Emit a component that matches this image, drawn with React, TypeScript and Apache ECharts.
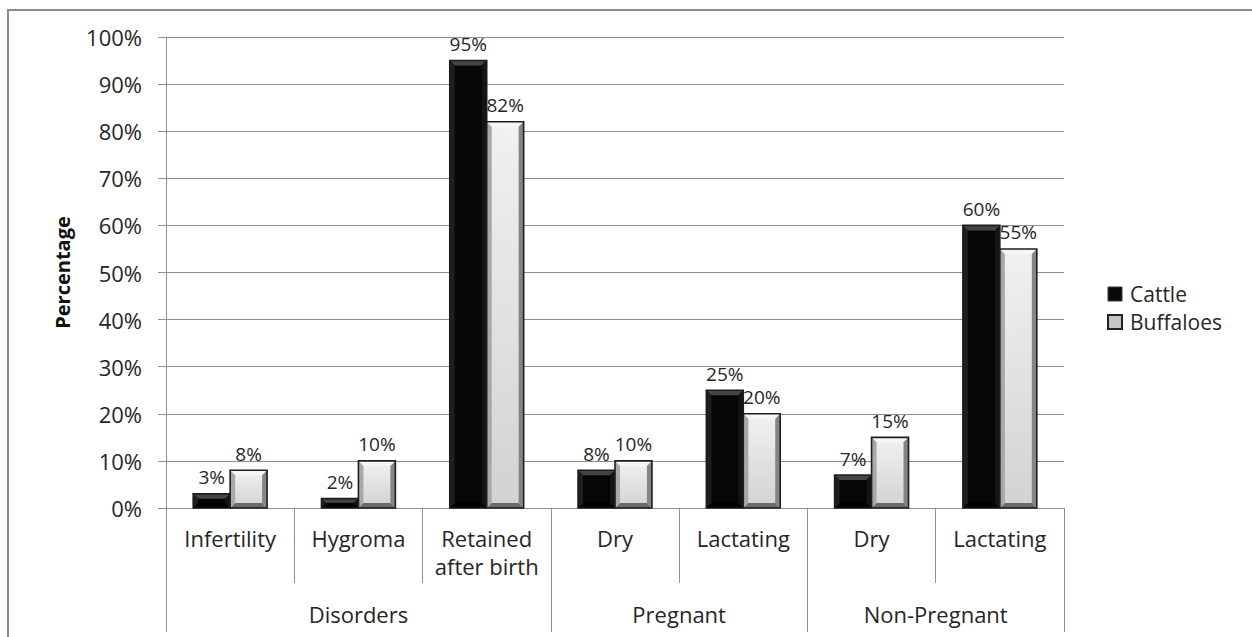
import React, { useEffect, useRef } from "react";
import * as echarts from "echarts";

// Sub-categories along the x axis and the groups they belong to
const categories = ["Infertility", "Hygroma", "Retained\nafter birth", "Dry", "Lactating", "Dry", "Lactating"];
const groups = ["Disorders", "Pregnant", "Non-Pregnant"];
const groupSizes = [3, 2, 2];

// Percentages per species
const cattle = [3, 2, 95, 8, 25, 7, 60];
const buffaloes = [8, 10, 82, 10, 20, 15, 55];

const yMax = 100;
const yStep = 10;

const FONT = '"Open Sans", "Noto Sans", sans-serif';
const TEXT = "#262626";
const GRID = "#8f8f8f";

type Palette = {
  stroke: string;
  top: string;
  left: string;
  right: string;
  bottom: string;
  face: any;
};

const darkPalette: Palette = {
  stroke: "#1c1c1c",
  top: "#454545",
  left: "#1e1e1e",
  right: "#141414",
  bottom: "#000000",
  face: "#060606",
};

const lightPalette: Palette = {
  stroke: "#1e1e1e",
  top: "#f6f6f6",
  left: "#a8a8a8",
  right: "#858585",
  bottom: "#6a6a6a",
  face: new echarts.graphic.LinearGradient(0, 0, 0, 1, [
    { offset: 0, color: "#f1f1f1" },
    { offset: 1, color: "#d2d2d2" },
  ]),
};

// Bevelled bar drawn beside the category centre (side -1 = left, +1 = right)
function bevelBar(side: number, pal: Palette) {
  return (params: any, api: any) => {
    const idx = api.value(0);
    const val = api.value(1);
    const topPt = api.coord([idx, val]);
    const basePt = api.coord([idx, 0]);
    const catW = api.size([1, 0])[0];
    const w = catW * 0.288;
    const x0 = side < 0 ? topPt[0] - w : topPt[0];
    const x1 = x0 + w;
    const y0 = topPt[1];
    const y1 = basePt[1];
    const h = y1 - y0;
    const b = Math.max(0, Math.min(5, h / 2 - 0.5, w / 2));
    const cx = (x0 + x1) / 2;
    const poly = (pts: number[][], fill: string) => ({
      type: "polygon",
      shape: { points: pts },
      style: { fill },
      silent: true,
    });
    return {
      type: "group",
      children: [
        {
          type: "rect",
          shape: { x: x0, y: y0, width: w, height: h },
          style: { fill: pal.face },
        },
        poly([[x0, y0], [x1, y0], [x1 - b, y0 + b], [x0 + b, y0 + b]], pal.top),
        poly([[x0, y1], [x1, y1], [x1 - b, y1 - b], [x0 + b, y1 - b]], pal.bottom),
        poly([[x0, y0], [x0 + b, y0 + b], [x0 + b, y1 - b], [x0, y1]], pal.left),
        poly([[x1, y0], [x1 - b, y0 + b], [x1 - b, y1 - b], [x1, y1]], pal.right),
        {
          type: "rect",
          shape: { x: x0, y: y0, width: w, height: h },
          style: { fill: "none", stroke: pal.stroke, lineWidth: 1.6 },
          silent: true,
        },
        {
          type: "text",
          style: {
            text: val + "%",
            x: cx,
            y: y0 - 7,
            align: "center",
            verticalAlign: "bottom",
            fill: TEXT,
            fontSize: 19,
            fontFamily: FONT,
          },
          silent: true,
        },
      ],
    };
  };
}

// Group boundaries and centres on a 0..N scale
const groupEdges: number[] = [0];
groupSizes.forEach((s) => groupEdges.push(groupEdges[groupEdges.length - 1] + s));
const groupCenters = groups.map((_, i) => (groupEdges[i] + groupEdges[i + 1]) / 2);

export default function App() {
  const ref = useRef<HTMLDivElement>(null);

  useEffect(() => {
    if (!ref.current) return;
    const chart = echarts.init(ref.current, null, { renderer: "svg" });
    chart.setOption({
      animation: false,
      backgroundColor: "#ffffff",
      textStyle: { fontFamily: FONT, color: TEXT },
      graphic: [
        {
          type: "rect",
          shape: { x: 8, y: 10, width: 1270, height: 660 },
          style: { fill: "none", stroke: "#8a8a8a", lineWidth: 2 },
          silent: true,
          z: 100,
        },
      ],
      grid: { left: 166, right: 188, top: 37, bottom: 129, containLabel: false },
      legend: {
        orient: "vertical",
        left: 1107,
        top: 282,
        padding: 0,
        itemWidth: 14,
        itemHeight: 14,
        itemGap: 4,
        textStyle: { fontSize: 21, fontFamily: FONT, color: TEXT, lineHeight: 24, padding: [0, 0, 0, 3] },
        data: [
          { name: "Cattle", icon: "rect", itemStyle: { color: "#0a0a0a", borderColor: "#3a3a3a", borderWidth: 1 } },
          { name: "Buffaloes", icon: "rect", itemStyle: { color: "#c4c4c4", borderColor: "#222222", borderWidth: 2 } },
        ],
      },
      xAxis: [
        {
          type: "category",
          data: categories,
          boundaryGap: true,
          axisLine: { show: true, lineStyle: { color: GRID, width: 1 } },
          axisTick: { show: true, length: 75, lineStyle: { color: GRID, width: 1 } },
          axisLabel: {
            interval: 0,
            margin: 16,
            fontSize: 22,
            lineHeight: 28,
            fontFamily: FONT,
            color: TEXT,
          },
          splitLine: { show: false },
        },
        {
          type: "value",
          position: "bottom",
          min: 0,
          max: categories.length,
          axisLine: { show: false },
          splitLine: { show: false },
          axisTick: {
            show: true,
            length: 124,
            customValues: groupEdges,
            lineStyle: { color: GRID, width: 1 },
          },
          axisLabel: {
            show: true,
            margin: 95,
            fontSize: 22,
            fontFamily: FONT,
            color: TEXT,
            customValues: groupCenters,
            formatter: (v: number) => {
              const i = groupCenters.findIndex((c) => Math.abs(c - v) < 1e-6);
              return i >= 0 ? groups[i] : "";
            },
          },
        },
      ],
      yAxis: {
        type: "value",
        min: 0,
        max: yMax,
        interval: yStep,
        name: "Percentage",
        nameLocation: "middle",
        nameRotate: 90,
        nameGap: 94,
        nameTextStyle: { fontSize: 20, fontWeight: "bold", fontFamily: FONT, color: "#111" },
        axisLine: { show: true, lineStyle: { color: GRID, width: 1 } },
        axisTick: { show: true, length: 8, lineStyle: { color: GRID, width: 1 } },
        axisLabel: { formatter: "{value}%", fontSize: 22, margin: 24, fontFamily: FONT, color: TEXT },
        splitLine: { show: true, lineStyle: { color: GRID, width: 1 } },
      },
      series: [
        {
          name: "Cattle",
          type: "custom",
          xAxisIndex: 0,
          yAxisIndex: 0,
          itemStyle: { color: "#0a0a0a" },
          renderItem: bevelBar(-1, darkPalette),
          encode: { x: 0, y: 1 },
          data: cattle.map((v, i) => [i, v]),
        },
        {
          name: "Buffaloes",
          type: "custom",
          xAxisIndex: 0,
          yAxisIndex: 0,
          itemStyle: { color: "#c4c4c4" },
          renderItem: bevelBar(1, lightPalette),
          encode: { x: 0, y: 1 },
          data: buffaloes.map((v, i) => [i, v]),
        },
      ],
    });
    return () => chart.dispose();
  }, []);

  return (
    <div
      ref={ref}
      style={{ position: "fixed", left: 0, top: 0, width: 1252, height: 637 }}
    />
  );
}
